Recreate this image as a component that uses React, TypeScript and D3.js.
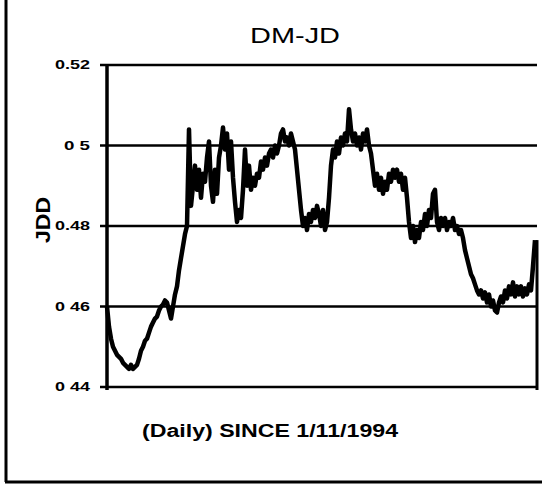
import React from "react";
import * as d3 from "d3";

const title = "DM-JD";
const yLabel = "JDD";
const xLabel = "(Daily) SINCE 1/11/1994";
const yTicks = [0.52, 0.5, 0.48, 0.46, 0.44];
const yTickLabels = ["0.52", "0 5", "0.48", "0 46", "0 44"];

// daily DM/JD values
const rate = [
  0.460, 0.455, 0.452, 0.450, 0.449, 0.448, 0.4475, 0.447, 0.446, 0.4455,
  0.445, 0.4445, 0.4455, 0.4445, 0.445, 0.4455, 0.447, 0.449, 0.450, 0.4515,
  0.452, 0.4535, 0.455, 0.456, 0.457, 0.4575, 0.459, 0.460, 0.4605, 0.4615,
  0.461, 0.459, 0.457, 0.460, 0.463, 0.465, 0.469, 0.472, 0.475, 0.478,
  0.480, 0.504, 0.485, 0.490, 0.495, 0.489, 0.494, 0.487, 0.493, 0.491,
  0.497, 0.501, 0.490, 0.486, 0.494, 0.488, 0.497, 0.500, 0.5045, 0.499,
  0.503, 0.494, 0.501, 0.492, 0.486, 0.481, 0.484, 0.482, 0.489, 0.499,
  0.490, 0.495, 0.489, 0.492, 0.490, 0.493, 0.492, 0.496, 0.494, 0.497,
  0.495, 0.498, 0.499, 0.497, 0.500, 0.498, 0.500, 0.503, 0.504, 0.501,
  0.502, 0.500, 0.503, 0.501, 0.499, 0.494, 0.489, 0.484, 0.480, 0.482,
  0.479, 0.483, 0.481, 0.484, 0.482, 0.485, 0.483, 0.480, 0.484, 0.479,
  0.481, 0.487, 0.495, 0.499, 0.497, 0.501, 0.498, 0.502, 0.500, 0.503,
  0.501, 0.509, 0.504, 0.501, 0.503, 0.500, 0.502, 0.499, 0.503, 0.501,
  0.504, 0.500, 0.498, 0.494, 0.490, 0.493, 0.489, 0.492, 0.488, 0.491,
  0.489, 0.493, 0.491, 0.494, 0.492, 0.494, 0.491, 0.493, 0.489, 0.492,
  0.487, 0.481, 0.477, 0.480, 0.476, 0.479, 0.477, 0.481, 0.479, 0.483,
  0.480, 0.484, 0.482, 0.488, 0.489, 0.481, 0.479, 0.482, 0.480, 0.482,
  0.479, 0.481, 0.480, 0.482, 0.479, 0.480, 0.478, 0.479, 0.477, 0.474,
  0.472, 0.470, 0.468, 0.467, 0.4655, 0.464, 0.463, 0.464, 0.462, 0.4635,
  0.461, 0.463, 0.460, 0.4615, 0.459, 0.4585, 0.461, 0.4625, 0.461, 0.464,
  0.462, 0.465, 0.463, 0.466, 0.4625, 0.465, 0.463, 0.465, 0.4625, 0.4645,
  0.463, 0.4655, 0.464, 0.470, 0.4765,
];

export default function App() {
  const W = 542, H = 496;
  const left = 107, right = 537, top = 65, bottom = 387;
  const x = d3.scaleLinear().domain([0, rate.length]).range([left, right]);
  const y = d3.scaleLinear().domain([0.44, 0.52]).range([bottom, top]);
  const line = d3.line<number>().x((_, i) => x(i)).y((d) => y(d));
  const last = rate[rate.length - 1];
  const font = "Arial, 'Liberation Sans', sans-serif";

  return (
    <svg width={W} height={H} style={{ position: "fixed", left: 0, top: 0, background: "#fff" }}>
      <rect x={0} y={0} width={W} height={H} fill="#fff" />
      {/* outer frame */}
      <line x1={6} y1={0} x2={6} y2={482} stroke="#000" strokeWidth={3} />
      <line x1={5} y1={482} x2={W} y2={482} stroke="#000" strokeWidth={3} />
      {/* gridlines and ticks */}
      {yTicks.map((t, i) => (
        <g key={t}>
          <line x1={left - 7} x2={right} y1={y(t)} y2={y(t)} stroke="#000" strokeWidth={2.5} />
          <text
            x={90}
            y={y(t)}
            dy="0.35em"
            textAnchor="end"
            fontFamily={font}
            fontWeight="bold"
            fontSize={12}
            fill="#000"
            textLength={yTickLabels[i].length === 3 ? 26 : 35}
            lengthAdjust="spacingAndGlyphs"
          >
            {yTickLabels[i]}
          </text>
        </g>
      ))}
      <line x1={left} x2={left} y1={top} y2={bottom + 3} stroke="#000" strokeWidth={3.5} />
      <line x1={right} x2={right} y1={y(last)} y2={bottom + 3} stroke="#000" strokeWidth={3} />
      <path d={line(rate) || ""} fill="none" stroke="#000" strokeWidth={4.5} strokeLinejoin="round" />
      <text
        x={295}
        y={43}
        textAnchor="middle"
        fontFamily={font}
        fontSize={22}
        fill="#000"
        textLength={90}
        lengthAdjust="spacingAndGlyphs"
      >
        {title}
      </text>
      <text
        transform={`translate(50,220) rotate(-90)`}
        textAnchor="middle"
        fontFamily={font}
        fontWeight="bold"
        fontSize={20}
        fill="#000"
        textLength={46}
        lengthAdjust="spacingAndGlyphs"
      >
        {yLabel}
      </text>
      <text
        x={270}
        y={437}
        textAnchor="middle"
        fontFamily={font}
        fontWeight="bold"
        fontSize={18}
        fill="#000"
        textLength={256}
        lengthAdjust="spacingAndGlyphs"
      >
        {xLabel}
      </text>
    </svg>
  );
}
